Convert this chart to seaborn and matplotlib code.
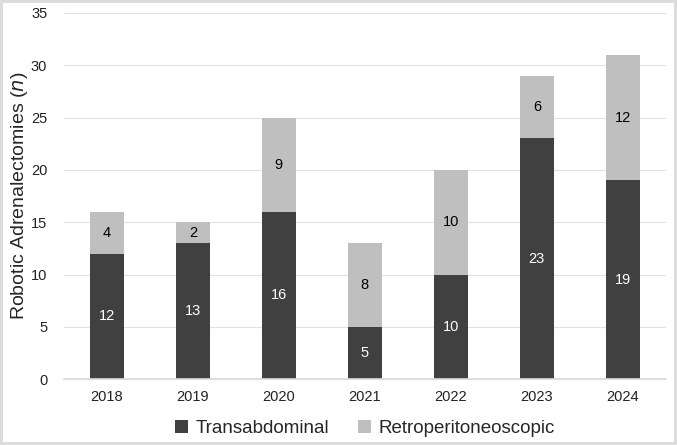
import pandas as pd
import matplotlib.pyplot as plt
import seaborn as sns

years = ["2018", "2019", "2020", "2021", "2022", "2023", "2024"]
transabdominal = [12, 13, 16, 5, 10, 23, 19]
retroperitoneoscopic = [4, 2, 9, 8, 10, 6, 12]

df = pd.DataFrame({"year": years, "trans": transabdominal, "retro": retroperitoneoscopic})

sns.set_theme(style="white")
plt.rcParams["font.family"] = ["Liberation Sans", "DejaVu Sans"]

fig = plt.figure(figsize=(6.77, 4.45), dpi=100)
fig.patch.set_edgecolor("#dcdcdc")
fig.patch.set_linewidth(3)
ax = fig.add_axes([0.0945, 0.148, 0.889, 0.823])

sns.barplot(data=df, x="year", y="trans", color="#404040", width=0.4,
            saturation=1, linewidth=0, ax=ax, label="Transabdominal")
sns.barplot(data=df, x="year", y="retro", bottom=df["trans"], color="#bfbfbf",
            width=0.4, saturation=1, linewidth=0, ax=ax, label="Retroperitoneoscopic")

# segment labels
for i, (t, r) in enumerate(zip(transabdominal, retroperitoneoscopic)):
    ax.text(i, t / 2, str(t), ha="center", va="center", color="white", fontsize=10.5)
    ax.text(i, t + r / 2, str(r), ha="center", va="center", color="black", fontsize=10.5)

ax.set_ylim(0, 35)
ax.set_yticks(range(0, 36, 5))
ax.set_xlim(-0.5, 6.5)
ax.yaxis.grid(True, color="#e2e2e2", linewidth=0.8)
ax.set_axisbelow(True)
for s in ["top", "right", "left"]:
    ax.spines[s].set_visible(False)
ax.spines["bottom"].set_color("#d9d9d9")
ax.tick_params(axis="both", length=0, labelsize=10.5, colors="#222222")
ax.tick_params(axis="y", pad=12)
ax.tick_params(axis="x", pad=8)
ax.set_xlabel("")
ax.set_ylabel("Robotic Adrenalectomies ($n$)", fontsize=14, labelpad=1)

ax.legend(loc="center", bbox_to_anchor=(0.5, -0.135), ncol=2, frameon=False,
          fontsize=13.5, handlelength=0.7, handleheight=0.7, columnspacing=1.5,
          handletextpad=0.4)

fig.savefig("out.png", dpi=100)
